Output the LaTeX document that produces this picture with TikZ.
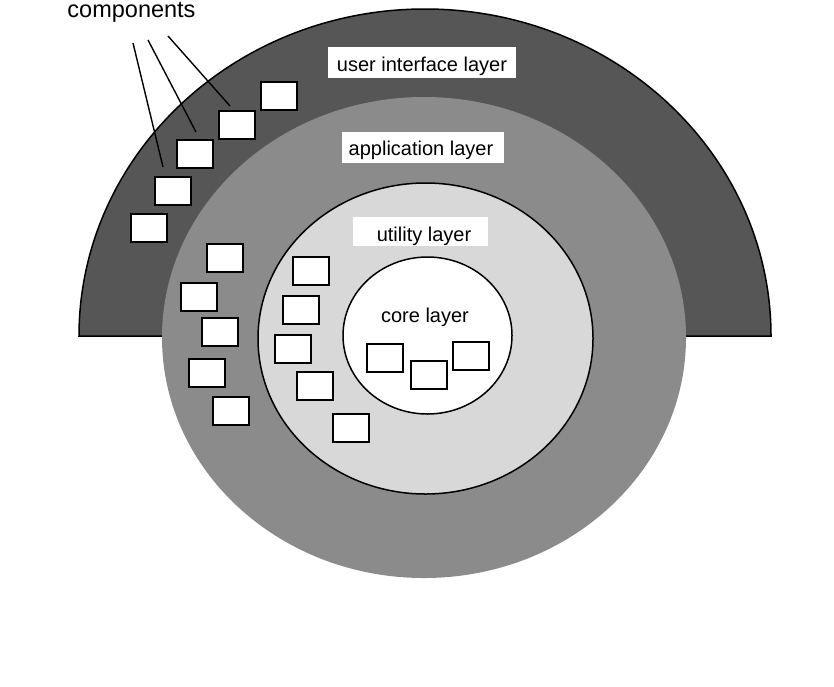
\documentclass[tikz,border=0pt]{standalone}
\usepackage{fontspec}
\setmainfont{Liberation Sans}
\definecolor{uidark}{RGB}{86,86,86}
\definecolor{appgray}{RGB}{139,139,139}
\definecolor{utilgray}{RGB}{216,216,216}
\begin{document}
\begin{tikzpicture}[x=1pt,y=-1pt,
  comp/.style={draw=black, line width=2pt, fill=white, minimum width=36pt, minimum height=28pt, inner sep=0pt},
  labelbox/.style={fill=white, inner sep=0pt},
  labeltext/.style={font=\fontsize{20}{24}\selectfont, anchor=base, inner sep=0pt},
  pointer/.style={draw=black, line width=1.4pt},
  ring/.style={draw=black, line width=1.5pt}]
\useasboundingbox (0,0) rectangle (834,686);
\fill[white] (0,0) rectangle (834,686);
% layers
\filldraw[ring, fill=uidark] (79,336) arc[start angle=180,end angle=360,x radius=346,y radius=327] -- cycle;
\fill[appgray] (424,337.5) ellipse[x radius=262, y radius=240.5];
\filldraw[ring, fill=utilgray] (425.5,338.5) ellipse[x radius=167.5,y radius=155.5];
\filldraw[ring, fill=white] (427.5,335.5) ellipse[x radius=84.5,y radius=78.5];
% layer labels
\node[labelbox, minimum width=188pt, minimum height=31pt] (uibox) at (422,62.5) {};
\node[labeltext] (uitext) at (422,71) {user interface layer};
\node[labelbox, minimum width=162pt, minimum height=31pt] (appbox) at (423,147.5) {};
\node[labeltext] (apptext) at (421,155) {application layer};
\node[labelbox, minimum width=135pt, minimum height=29pt] (utilbox) at (420.5,231.5) {};
\node[labeltext] (utiltext) at (424,241.5) {utility layer};
\node[labeltext] (coretext) at (425,322) {core layer};
% components in user interface layer
\node[comp] (ua) at (279,95.5) {};
\node[comp] (ub) at (237,124.5) {};
\node[comp] (uc) at (195,153.5) {};
\node[comp] (ud) at (173,191) {};
\node[comp] (ue) at (149,227.5) {};
% components in application layer
\node[comp] (aa) at (224.5,258) {};
\node[comp] (ab) at (198.5,296.5) {};
\node[comp] (ac) at (219.5,331.5) {};
\node[comp] (ad) at (206.5,373) {};
\node[comp] (ae) at (231,411) {};
% components in utility layer
\node[comp] (ta) at (311,271) {};
\node[comp] (tb) at (300.5,310) {};
\node[comp] (tc) at (293,349) {};
\node[comp] (td) at (315,385.5) {};
\node[comp] (te) at (351,428) {};
% components in core layer
\node[comp] (ca) at (384.5,358) {};
\node[comp] (cb) at (428.5,374.5) {};
\node[comp] (cc) at (471,356) {};
% caption and pointers
\node[font=\fontsize{23.5}{28}\selectfont, anchor=base, inner sep=0pt] (components) at (131.5,17) {components};
\coordinate (p1s) at (133,43);
\coordinate (p1e) at (163,167);
\coordinate (p2s) at (148,40);
\coordinate (p2e) at (196,132);
\coordinate (p3s) at (168,36);
\coordinate (p3e) at (230,106);
\draw[pointer] (p1s) -- (p1e);
\draw[pointer] (p2s) -- (p2e);
\draw[pointer] (p3s) -- (p3e);
\end{tikzpicture}
\end{document}
